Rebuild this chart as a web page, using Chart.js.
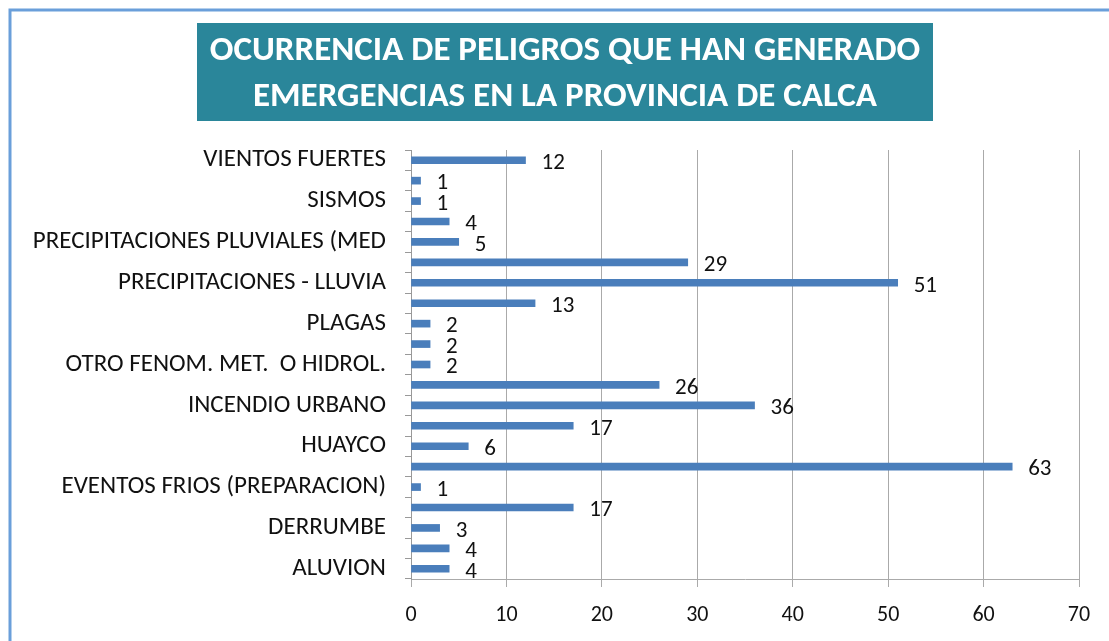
<!DOCTYPE html>
<html>
<head>
<meta charset="utf-8">
<script src="https://cdn.jsdelivr.net/npm/chart.js@4.4.1/dist/chart.umd.min.js"></script>
<style>
html,body{margin:0;padding:0;background:#fff;}
#wrap{position:relative;width:1109px;height:641px;}
canvas{display:block;}
</style>
</head>
<body>
<div id="wrap"><canvas id="c" width="1109" height="641"></canvas></div>
<script>
// ---- data (top to bottom as in the picture) ----
const TITLE_LINES = ["OCURRENCIA DE PELIGROS QUE HAN GENERADO", "EMERGENCIAS EN LA PROVINCIA DE CALCA"];
const CATEGORIES = [
  "VIENTOS FUERTES", "",
  "SISMOS", "",
  "PRECIPITACIONES PLUVIALES (MED", "",
  "PRECIPITACIONES - LLUVIA", "",
  "PLAGAS", "",
  "OTRO FENOM. MET.  O HIDROL.", "",
  "INCENDIO URBANO", "",
  "HUAYCO", "",
  "EVENTOS FRIOS (PREPARACION)", "",
  "DERRUMBE", "",
  "ALUVION"
];
const VALUES = [12, 1, 1, 4, 5, 29, 51, 13, 2, 2, 2, 26, 36, 17, 6, 63, 1, 17, 3, 4, 4];
const X_TICKS = [0, 10, 20, 30, 40, 50, 60, 70];

const FONT = "Carlito, Lato, 'Open Sans', sans-serif";

const framePlugin = {
  id: 'frame',
  beforeDraw(chart) {
    const ctx = chart.ctx;
    ctx.save();
    ctx.fillStyle = '#fff';
    ctx.fillRect(0, 0, chart.width, chart.height);
    ctx.strokeStyle = '#6a9fda';
    ctx.lineWidth = 3;
    ctx.beginPath();
    ctx.moveTo(10, 641);
    ctx.lineTo(10, 10);
    ctx.lineTo(1109, 10);
    ctx.stroke();
    // title box
    ctx.fillStyle = '#2a869a';
    ctx.fillRect(197, 23, 736, 98);
    ctx.fillStyle = '#ffffff';
    ctx.font = "bold 35px " + FONT;
    ctx.textAlign = 'center';
    ctx.textBaseline = 'middle';
    ctx.fillText(TITLE_LINES[0], 565, 51);
    ctx.fillText(TITLE_LINES[1], 565, 97);
    ctx.restore();
  }
};

const valueLabels = {
  id: 'valueLabels',
  afterDatasetsDraw(chart) {
    const ctx = chart.ctx;
    const meta = chart.getDatasetMeta(0);
    ctx.save();
    ctx.fillStyle = '#111';
    ctx.font = "23px " + FONT;
    ctx.textAlign = 'left';
    ctx.textBaseline = 'middle';
    meta.data.forEach((bar, i) => {
      ctx.fillText(String(VALUES[i]), bar.x + 16, bar.y + 3);
    });
    ctx.restore();
  }
};

new Chart(document.getElementById('c'), {
  type: 'bar',
  data: {
    labels: CATEGORIES,
    datasets: [{
      data: VALUES,
      backgroundColor: '#4a7ebb',
      borderWidth: 0,
      barThickness: 7
    }]
  },
  plugins: [framePlugin, valueLabels],
  options: {
    indexAxis: 'y',
    responsive: false,
    animation: false,
    layout: { padding: { top: 150, right: 30, bottom: 0, left: 0 } },
    plugins: {
      legend: { display: false },
      title: { display: false },
      tooltip: { enabled: false }
    },
    scales: {
      x: {
        min: 0, max: 70,
        afterBuildTicks(scale) { scale.ticks = X_TICKS.map(v => ({ value: v })); },
        afterFit(scale) { scale.height = 62; },
        grid: { color: '#aaaaaa', lineWidth: 1, tickLength: 8, drawTicks: true },
        border: { display: true, color: '#aaaaaa' },
        ticks: { color: '#111', font: { family: FONT, size: 22 }, padding: 15, maxRotation: 0 }
      },
      y: {
        afterFit(scale) { scale.width = 411; },
        grid: { drawOnChartArea: false, color: '#999999', tickLength: 6, offset: true },
        border: { display: true, color: '#999999' },
        ticks: { color: '#111', font: { family: FONT, size: 25 }, padding: 19, autoSkip: false }
      }
    }
  }
});
</script>
</body>
</html>
